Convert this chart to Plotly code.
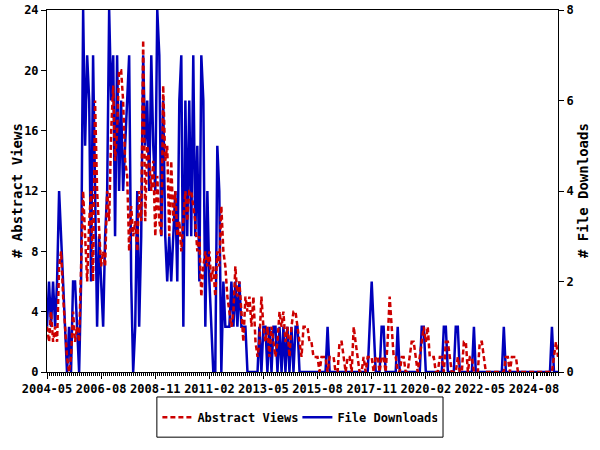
import plotly.graph_objects as go
import pandas as pd

# Monthly categories 2004-05 .. 2025-08
MONTHS = pd.period_range("2004-05", "2025-08", freq="M").strftime("%Y-%m").tolist()

ABSTRACT_VIEWS = [
    3, 2, 4, 2, 3, 2, 7, 8, 5, 3, 1, 0,
    1, 4, 2, 3, 2, 7, 12, 9, 6, 10, 12, 6,
    18, 12, 9, 7, 8, 7, 12, 10, 16, 19, 14, 16,
    20, 20, 18, 14, 13, 8, 11, 9, 10, 8, 12, 10,
    22, 10, 15, 14, 12, 14, 9, 13, 10, 9, 19, 14,
    15, 9, 14, 10, 12, 9, 10, 8, 10, 12, 10, 12,
    12, 11, 10, 8, 9, 5, 7, 8, 7, 8, 6, 7,
    5, 8, 7, 11, 8, 7, 5, 4, 3, 4, 7, 5,
    6, 4, 2, 5, 4, 5, 3, 5, 2, 1, 2, 5,
    3, 2, 3, 1, 3, 2, 1, 2, 4, 3, 4, 2,
    3, 1, 3, 4, 4, 3, 2, 1, 3, 3, 3, 2,
    2, 1, 1, 1, 0, 1, 1, 1, 0, 1, 1, 1,
    0, 0, 2, 2, 1, 0, 1, 1, 0, 3, 2, 1,
    0, 0, 1, 0, 1, 1, 1, 0, 1, 1, 0, 1,
    1, 0, 2, 5, 3, 1, 1, 0, 0, 1, 1, 0,
    0, 1, 2, 2, 1, 0, 1, 2, 3, 2, 3, 1,
    1, 1, 0, 0, 1, 1, 0, 2, 2, 1, 0, 0,
    0, 1, 0, 0, 2, 2, 0, 1, 1, 0, 0, 0,
    2, 2, 1, 0, 0, 0, 0, 0, 0, 0, 0, 0,
    0, 1, 1, 0, 1, 1, 1, 0, 0, 0, 0, 0,
    0, 0, 0, 0, 0, 0, 0, 0, 0, 0, 0, 0,
    0, 1, 2, 1,
]

FILE_DOWNLOADS = [
    1, 2, 1, 2, 1, 2, 4, 3, 2, 1, 0, 1,
    0, 2, 2, 1, 0, 2, 8, 5, 7, 6, 2, 7,
    4, 1, 3, 2, 1, 3, 4, 8, 6, 7, 3, 7,
    4, 6, 4, 5, 6, 7, 2, 0, 1, 4, 1, 3,
    7, 5, 6, 4, 7, 5, 4, 8, 7, 3, 6, 3,
    2, 3, 2, 3, 4, 2, 6, 7, 1, 6, 3, 6,
    3, 7, 3, 5, 2, 7, 6, 1, 4, 2, 1, 0,
    0, 5, 4, 0, 2, 1, 1, 1, 2, 1, 2, 1,
    2, 1, 1, 1, 0, 0, 0, 0, 0, 0, 1, 0,
    1, 1, 0, 1, 0, 1, 1, 0, 1, 0, 1, 0,
    1, 0, 1, 0, 1, 1, 0, 0, 0, 0, 0, 0,
    0, 0, 0, 0, 0, 0, 0, 0, 1, 0, 0, 0,
    0, 0, 0, 0, 0, 0, 0, 0, 0, 0, 0, 0,
    0, 0, 0, 0, 0, 1, 2, 1, 0, 0, 0, 1,
    1, 0, 0, 0, 0, 0, 0, 1, 0, 0, 0, 0,
    0, 0, 0, 0, 0, 0, 0, 1, 1, 0, 0, 0,
    0, 0, 0, 0, 0, 0, 1, 1, 0, 0, 0, 0,
    1, 1, 0, 0, 0, 0, 0, 0, 0, 1, 0, 0,
    0, 0, 0, 0, 0, 0, 0, 0, 0, 0, 0, 0,
    1, 0, 0, 0, 0, 0, 0, 0, 0, 0, 0, 0,
    0, 0, 0, 0, 0, 0, 0, 0, 0, 0, 0, 0,
    1, 0, 0, 0,
]

TICK_LABELS = ["2004-05", "2006-08", "2008-11", "2011-02", "2013-05",
               "2015-08", "2017-11", "2020-02", "2022-05", "2024-08"]

FONT = "DejaVu Sans Mono"
TXT = dict(family=FONT, size=12, color="black", weight="bold")
TITLE_FONT = dict(family=FONT, size=14, color="black", weight="bold")

fig = go.Figure()
fig.add_trace(go.Scatter(
    x=MONTHS, y=ABSTRACT_VIEWS, name="Abstract Views", yaxis="y2",
    mode="lines", line=dict(color="#cc0000", width=2.5, dash="5px,3px"),
))
fig.add_trace(go.Scatter(
    x=MONTHS, y=FILE_DOWNLOADS, name="File Downloads", yaxis="y",
    mode="lines", line=dict(color="#0000bb", width=2.5),
))

# legend frame (paper coordinates)
fig.add_shape(type="rect", xref="paper", yref="paper",
              x0=0.215, x1=0.775, y0=-0.18, y1=-0.069,
              line=dict(color="black", width=1), fillcolor="rgba(0,0,0,0)")

# axis titles
fig.add_annotation(text="# Abstract Views", xref="paper", yref="paper",
                   x=0, y=0.5, xshift=-30, xanchor="center", yanchor="middle",
                   textangle=-90, showarrow=False, font=TITLE_FONT)
fig.add_annotation(text="# File Downloads", xref="paper", yref="paper",
                   x=1, y=0.5, xshift=25, xanchor="center", yanchor="middle",
                   textangle=-90, showarrow=False, font=TITLE_FONT)

fig.update_layout(
    width=600, height=450,
    margin=dict(l=47, r=42, t=10, b=78, autoexpand=False),
    paper_bgcolor="white", plot_bgcolor="white",
    font=TXT,
    hovermode=False,
    showlegend=True,
    legend=dict(
        orientation="h", x=0.49, xanchor="center", y=-0.085, yanchor="top",
        borderwidth=0, bgcolor="rgba(0,0,0,0)",
        font=TXT, traceorder="normal", itemwidth=30,
        entrywidth=95, entrywidthmode="pixels",
    ),
    xaxis=dict(
        type="date", range=["2004-05-01", "2025-08-01"],
        tickvals=TICK_LABELS, ticktext=TICK_LABELS,
        ticks="outside", ticklen=6, tickcolor="black",
        showline=True, linecolor="black", linewidth=1, mirror=True,
        showgrid=False, zeroline=False, automargin=False,
        minor=dict(dtick="M1", tick0="2004-05-01", ticks="outside",
                   ticklen=3, tickcolor="black", showgrid=False),
        tickfont=TXT, anchor="y",
    ),
    yaxis=dict(
        side="right", range=[0, 8], dtick=2, tick0=0,
        ticks="outside", ticklen=5, tickcolor="black",
        showline=True, linecolor="black", linewidth=1,
        showgrid=False, zeroline=False, automargin=False,
        tickfont=TXT,
    ),
    yaxis2=dict(
        side="left", overlaying="y", range=[0, 24], dtick=4, tick0=0,
        ticks="outside", ticklen=5, tickcolor="black",
        showline=True, linecolor="black", linewidth=1,
        showgrid=False, zeroline=False, automargin=False,
        tickfont=TXT,
    ),
)

# remove the browser's default 8px body margin so the figure sits at (0, 0)
fig.write_html("out.html", config={"displayModeBar": False},
               post_script="document.body.style.margin='0';document.body.style.overflow='hidden';")
